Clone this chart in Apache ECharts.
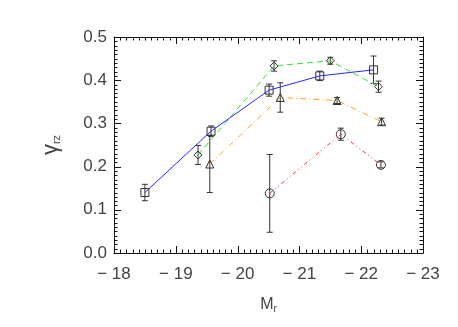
<!DOCTYPE html>
<html>
<head>
<meta charset="utf-8">
<script src="https://cdn.jsdelivr.net/npm/echarts@6/dist/echarts.min.js"></script>
<style>
  html, body { margin: 0; padding: 0; background: #fff; }
  #main { width: 458px; height: 327px; }
</style>
</head>
<body>
<div id="main"></div>
<script>
// magnitude bins and gamma_rz values
const blueX = [-18.5, -19.57, -20.51, -21.33, -22.2];
const blueY = [0.14, 0.282, 0.377, 0.41, 0.424];
const blueErr = [0.019, 0.012, 0.014, 0.011, 0.032];

const greenX = [-19.36, -20.59, -21.5, -22.28];
const greenY = [0.227, 0.433, 0.445, 0.385];
const greenErr = [0.022, 0.012, 0.008, 0.013];

const orangeX = [-19.55, -20.69, -21.61, -22.33];
const orangeY = [0.206, 0.36, 0.353, 0.304];
const orangeErr = [0.066, 0.034, 0.007, 0.008];

const redX = [-20.52, -21.67, -22.32];
const redY = [0.138, 0.275, 0.204];
const redErr = [0.09, 0.014, 0.007];

const xTicks = [-18, -19, -20, -21, -22, -23];
const yTicks = [0.0, 0.1, 0.2, 0.3, 0.4, 0.5];
const minorPerMajor = 10;

const font = 'Liberation Sans';
const textColor = '#444';

function pts(xs, ys) {
  return xs.map((x, i) => [x, ys[i]]);
}
function errPts(xs, ys, es) {
  return xs.map((x, i) => [x, ys[i], es[i]]);
}

// tick positions: majors from the tick lists, minors subdividing them
function tickData(ticks) {
  const out = [];
  for (let i = 0; i < ticks.length; i++) {
    out.push([ticks[i], 7]);
    if (i < ticks.length - 1) {
      const step = (ticks[i + 1] - ticks[i]) / minorPerMajor;
      for (let k = 1; k < minorPerMajor; k++) out.push([ticks[i] + k * step, 3.5]);
    }
  }
  return out;
}

const tickStyle = { stroke: '#111', lineWidth: 1 };

function xTickSeries() {
  return {
    type: 'custom',
    xAxisIndex: 0,
    yAxisIndex: 0,
    z: 5,
    silent: true,
    clip: false,
    data: tickData(xTicks),
    renderItem: function (params, api) {
      const cs = params.coordSys;
      const p = api.coord([api.value(0), yTicks[0]]);
      const len = api.value(1);
      const x = Math.round(p[0]) + 0.5;
      const top = cs.y, bot = cs.y + cs.height;
      return {
        type: 'group',
        children: [
          { type: 'line', shape: { x1: x, y1: bot, x2: x, y2: bot - len }, style: tickStyle },
          { type: 'line', shape: { x1: x, y1: top, x2: x, y2: top + len }, style: tickStyle }
        ]
      };
    }
  };
}

function yTickSeries() {
  return {
    type: 'custom',
    xAxisIndex: 0,
    yAxisIndex: 0,
    z: 5,
    silent: true,
    clip: false,
    data: tickData(yTicks).map(d => [xTicks[0], d[0], d[1]]),
    renderItem: function (params, api) {
      const cs = params.coordSys;
      const p = api.coord([api.value(0), api.value(1)]);
      const len = api.value(2);
      const y = Math.round(p[1]) + 0.5;
      const left = cs.x, right = cs.x + cs.width;
      return {
        type: 'group',
        children: [
          { type: 'line', shape: { x1: left, y1: y, x2: left + len, y2: y }, style: tickStyle },
          { type: 'line', shape: { x1: right, y1: y, x2: right - len, y2: y }, style: tickStyle }
        ]
      };
    }
  };
}

function errorBars(xs, ys, es) {
  return {
    type: 'custom',
    xAxisIndex: 0,
    yAxisIndex: 0,
    z: 1,
    data: errPts(xs, ys, es),
    renderItem: function (params, api) {
      const x = api.value(0), y = api.value(1), e = api.value(2);
      const top = api.coord([x, y + e]);
      const bot = api.coord([x, y - e]);
      const cap = 3;
      const st = { stroke: '#333', lineWidth: 1 };
      return {
        type: 'group',
        children: [
          { type: 'line', shape: { x1: top[0], y1: top[1], x2: bot[0], y2: bot[1] }, style: st },
          { type: 'line', shape: { x1: top[0] - cap, y1: top[1], x2: top[0] + cap, y2: top[1] }, style: st },
          { type: 'line', shape: { x1: bot[0] - cap, y1: bot[1], x2: bot[0] + cap, y2: bot[1] }, style: st }
        ]
      };
    }
  };
}

function lineSeries(xs, ys, color, dash, symbol, size) {
  return {
    type: 'line',
    xAxisIndex: 0,
    yAxisIndex: 0,
    z: 2,
    data: pts(xs, ys),
    symbol: symbol,
    symbolSize: size,
    showAllSymbol: true,
    lineStyle: { color: color, width: 1, type: dash },
    itemStyle: { color: 'rgba(0,0,0,0)', borderColor: '#333', borderWidth: 1 },
    emphasis: { disabled: true },
    animation: false
  };
}

const chart = echarts.init(document.getElementById('main'));

function xAxisDef(position, extra) {
  return Object.assign({
    type: 'value',
    position: position,
    min: -23,
    max: -18,
    interval: 1,
    inverse: true,
    splitLine: { show: false },
    axisLine: { show: true, onZero: false, lineStyle: { color: '#111', width: 1 } },
    axisTick: { show: false },
    axisLabel: { show: false }
  }, extra || {});
}
function yAxisDef(position, extra) {
  return Object.assign({
    type: 'value',
    position: position,
    min: 0,
    max: 0.5,
    interval: 0.1,
    splitLine: { show: false },
    axisLine: { show: true, onZero: false, lineStyle: { color: '#111', width: 1 } },
    axisTick: { show: false },
    axisLabel: { show: false }
  }, extra || {});
}

const option = {
  backgroundColor: '#fff',
  animation: false,
  grid: { left: 114, right: 35, top: 37, bottom: 74 },
  xAxis: [
    xAxisDef('bottom', {
      name: '{m|M}{s|r}',
      nameLocation: 'middle',
      nameGap: 42,
      nameTextStyle: {
        rich: {
          m: { fontFamily: font, fontSize: 16, color: textColor },
          s: { fontFamily: font, fontSize: 10, color: textColor, padding: [9, 0, 0, 0] }
        }
      },
      axisLabel: {
        show: true,
        margin: 13,
        fontFamily: font,
        fontSize: 17,
        color: textColor,
        formatter: v => (xTicks.includes(v) ? String(v).replace('-', '\u2212 ') : '')
      }
    }),
    xAxisDef('top')
  ],
  yAxis: [
    yAxisDef('left', {
      name: '{g|\u03b3}{s|rz}',
      nameLocation: 'middle',
      nameGap: 52,
      nameRotate: 90,
      nameTextStyle: {
        rich: {
          g: { fontFamily: font, fontSize: 22, color: textColor },
          s: { fontFamily: font, fontSize: 11, color: textColor, padding: [12, 0, 0, 0] }
        }
      },
      axisLabel: {
        show: true,
        margin: 7,
        fontFamily: font,
        fontSize: 17,
        color: textColor,
        formatter: v => yTicks.some(t => Math.abs(t - v) < 1e-9) ? v.toFixed(1) : ''
      }
    }),
    yAxisDef('right')
  ],
  series: [
    xTickSeries(),
    yTickSeries(),
    errorBars(blueX, blueY, blueErr),
    errorBars(greenX, greenY, greenErr),
    errorBars(orangeX, orangeY, orangeErr),
    errorBars(redX, redY, redErr),
    lineSeries(blueX, blueY, '#2828ff', 'solid', 'rect', 8),
    lineSeries(greenX, greenY, '#33e033', [6, 4], 'diamond', 8),
    lineSeries(orangeX, orangeY, '#ffa520', [6, 3, 1, 3], 'triangle', 8),
    lineSeries(redX, redY, '#ff3030', [4, 3, 1, 3, 1, 3], 'circle', 9)
  ]
};

chart.setOption(option);
</script>
</body>
</html>
